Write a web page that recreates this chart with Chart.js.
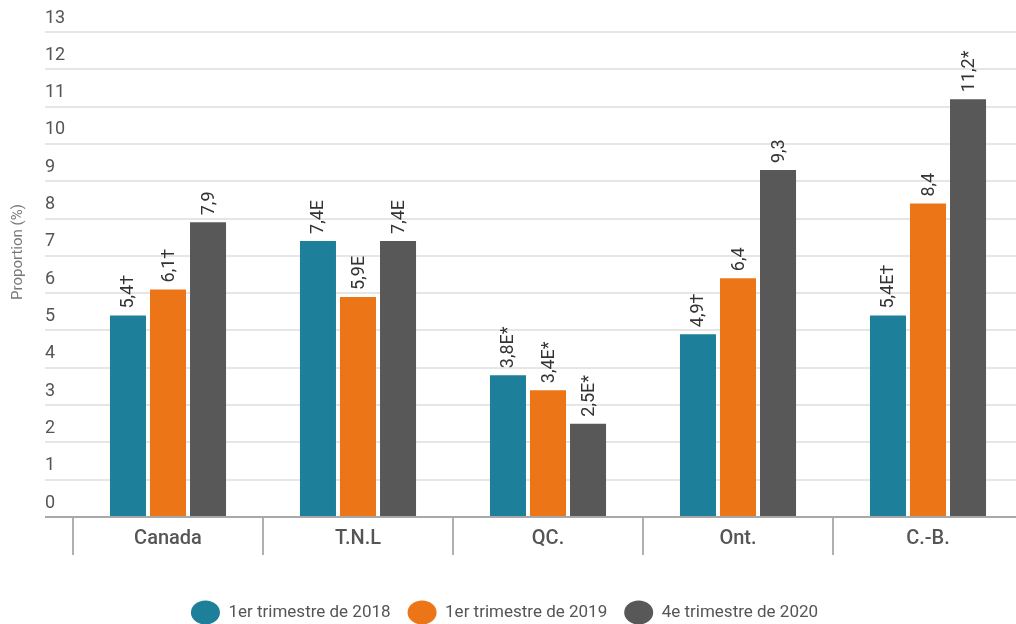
<!DOCTYPE html>
<html>
<head>
<meta charset="utf-8">
<script src="https://cdn.jsdelivr.net/npm/chart.js@4"></script>
<style>
  body { margin: 0; background: #fff; overflow: hidden; }
  #wrap { width: 1024px; height: 624px; }
</style>
</head>
<body>
<div id="wrap"><canvas id="chart" width="1024" height="624"></canvas></div>
<script>
// Chart data
const regions = ['Canada', 'T.N.L', 'QC.', 'Ont.', 'C.-B.'];
const seriesNames = ['1er trimestre de 2018', '1er trimestre de 2019', '4e trimestre de 2020'];
const values2018 = [5.4, 7.4, 3.8, 4.9, 5.4];
const values2019 = [6.1, 5.9, 3.4, 6.4, 8.4];
const values2020 = [7.9, 7.4, 2.5, 9.3, 11.2];
// text shown above each bar (values + quality flags)
const labels2018 = ['5,4†', '7,4E', '3,8E*', '4,9†', '5,4E†'];
const labels2019 = ['6,1†', '5,9E', '3,4E*', '6,4', '8,4'];
const labels2020 = ['7,9', '7,4E', '2,5E*', '9,3', '11,2*'];
const yTicks = [0, 13];

const colors = ['#1d7f99', '#ec7518', '#585858'];
const barLabels = [labels2018, labels2019, labels2020];

// Draw the rotated value labels above the bars
const valueLabels = {
    id: 'valueLabels',
    afterDatasetsDraw(chart) {
        const ctx = chart.ctx;
        ctx.save();
        ctx.font = '18px Roboto';
        ctx.fillStyle = '#333';
        ctx.textAlign = 'left';
        ctx.textBaseline = 'middle';
        chart.data.datasets.forEach((ds, i) => {
            chart.getDatasetMeta(i).data.forEach((bar, j) => {
                ctx.save();
                ctx.translate(bar.x, bar.y - 7);
                ctx.rotate(-Math.PI / 2);
                ctx.fillText(barLabels[i][j], 0, 1);
                ctx.restore();
            });
        });
        ctx.restore();
    }
};

// y axis title sits at the far left, beside the tick labels
const yTitle = {
    id: 'yTitle',
    afterDraw(chart) {
        const ctx = chart.ctx;
        ctx.save();
        ctx.font = '15px Roboto';
        ctx.fillStyle = '#777';
        ctx.textAlign = 'center';
        ctx.textBaseline = 'middle';
        ctx.translate(18, 252);
        ctx.rotate(-Math.PI / 2);
        ctx.fillText('Proportion (%)', 0, 0);
        ctx.restore();
    }
};

new Chart(document.getElementById('chart'), {
    type: 'bar',
    data: {
        labels: regions,
        datasets: [
            { label: seriesNames[0], data: values2018, backgroundColor: colors[0], borderWidth: 0 },
            { label: seriesNames[1], data: values2019, backgroundColor: colors[1], borderWidth: 0 },
            { label: seriesNames[2], data: values2020, backgroundColor: colors[2], borderWidth: 0 }
        ]
    },
    options: {
        responsive: false,
        animation: false,
        datasets: {
            bar: { categoryPercentage: 0.632, barPercentage: 0.9 }
        },
        layout: {
            padding: { left: -14, top: 32, right: 1, bottom: -7 }
        },
        plugins: {
            tooltip: { enabled: false },
            legend: {
                position: 'bottom',
                labels: {
                    usePointStyle: true,
                    pointStyle: 'circle',
                    pointStyleWidth: 29,
                    boxHeight: 17,
                    padding: 17,
                    color: '#555',
                    font: { family: 'Roboto', size: 17 }
                }
            }
        },
        scales: {
            x: {
                afterFit(scale) { scale.height = 70; },
                grid: {
                    offset: true,
                    drawOnChartArea: false,
                    tickLength: 38,
                    color: '#b0b0b0',
                    lineWidth: 2
                },
                border: { color: '#a8a8a8', width: 2 },
                ticks: {
                    padding: -28,
                    autoSkip: false,
                    maxRotation: 0,
                    minRotation: 0,
                    color: '#555',
                    font: { family: 'Roboto', size: 20, weight: '500' }
                }
            },
            y: {
                min: yTicks[0],
                max: yTicks[1],
                afterFit(scale) { scale.width = 87; },
                grid: {
                    tickLength: 28,
                    lineWidth: 2,
                    color: (c) => (c.tick && c.tick.value === 0 ? '#a8a8a8' : '#e6e6e6')
                },
                border: { display: false },
                ticks: {
                    stepSize: 1,
                    mirror: true,
                    crossAlign: 'near',
                    labelOffset: -14,
                    padding: -28,
                    color: '#555',
                    font: { family: 'Roboto', size: 18 }
                }
            }
        }
    },
    plugins: [valueLabels, yTitle]
});
</script>
</body>
</html>
